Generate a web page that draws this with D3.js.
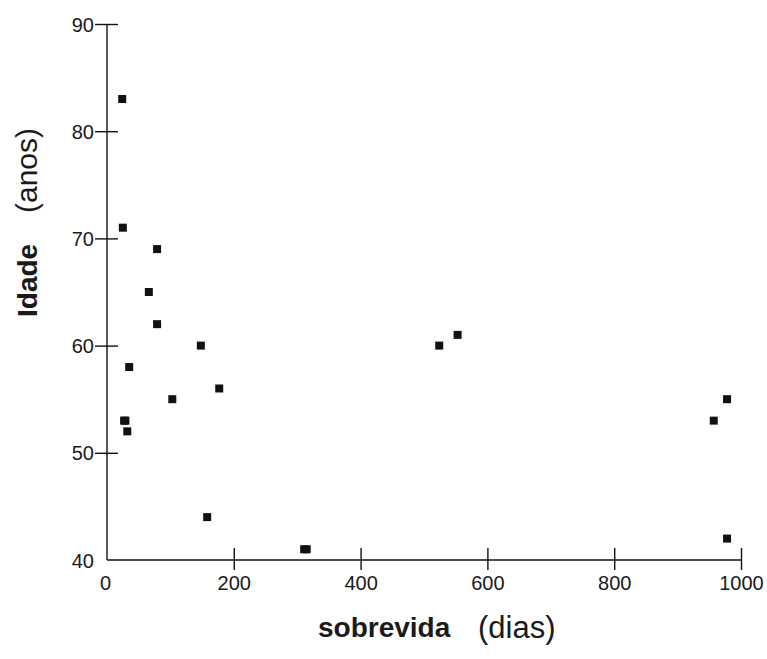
<!doctype html>
<html lang="en">
<head>
<meta charset="utf-8">
<title>Idade x sobrevida</title>
<style>
  body { margin: 0; background: #fff; }
  svg { display: block; }
  text { font-family: Arial, "Liberation Sans", sans-serif; fill: #1a1a1a; }
</style>
</head>
<body>
<svg id="svg" width="767" height="659"></svg>
<script src="https://cdn.jsdelivr.net/npm/d3@7"></script>
<script>
  // survival (days) and age (years)
  var sobrevida = [24, 25, 79, 66, 79, 148, 35, 177, 103, 27, 29, 32, 158, 311, 315, 524, 553, 957, 978, 978];
  var idade     = [83, 71, 69, 65, 62, 60, 58, 56, 55, 53, 53, 52, 44, 41, 41, 60, 61, 53, 55, 42];
  var xTicks = [0, 200, 400, 600, 800, 1000];
  var yTicks = [40, 50, 60, 70, 80, 90];

  var svg = d3.select("#svg");

  var x = d3.scaleLinear().domain([0, 1000]).range([107, 741]);
  var y = d3.scaleLinear().domain([40, 90]).range([560, 24]);

  // x axis, ticks cross the line
  var gx = svg.append("g")
    .attr("transform", "translate(0,560)")
    .call(d3.axisBottom(x).tickValues(xTicks).tickFormat(d3.format("d")).tickSize(10).tickPadding(0));
  gx.select(".domain").attr("d", "M" + x(0) + ",0H" + x(1000)).attr("stroke", "#111").attr("stroke-width", 1.4);
  gx.selectAll(".tick line").attr("y1", -12).attr("y2", 10).attr("stroke", "#111").attr("stroke-width", 1.4)
    .filter(function(d) { return d == 0; }).remove();
  gx.selectAll(".tick text").attr("y", 30).attr("dy", null)
    .style("font-size", "20px").attr("fill", "#1a1a1a")
    .attr("x", function(d) { return d == 0 ? -2 : 0; });

  // y axis
  var gy = svg.append("g")
    .attr("transform", "translate(107,0)")
    .call(d3.axisLeft(y).tickValues(yTicks).tickSize(12).tickPadding(0));
  gy.select(".domain").attr("d", "M0," + y(40) + "V" + y(90)).attr("stroke", "#111").attr("stroke-width", 1.4);
  gy.selectAll(".tick line").attr("x1", 11).attr("x2", -12).attr("stroke", "#111").attr("stroke-width", 1.4)
    .filter(function(d) { return d == 40; }).remove();
  gy.selectAll(".tick text").attr("x", -13).attr("dy", "0.35em")
    .style("font-size", "20px").attr("fill", "#1a1a1a");

  svg.selectAll("g").attr("font-family", null).attr("font-size", null);

  // points
  var pts = sobrevida.map(function(d, i) { return [d, idade[i]]; });
  svg.append("g").selectAll("rect")
    .data(pts)
    .join("rect")
    .attr("x", function(d) { return x(d[0]) - 4; })
    .attr("y", function(d) { return y(d[1]) - 4; })
    .attr("width", 8)
    .attr("height", 8)
    .attr("fill", "#111");

  // axis titles
  svg.append("text").attr("x", 318).attr("y", 637)
    .style("font-size", "28px").style("font-weight", "bold").text("sobrevida");
  svg.append("text").attr("x", 478).attr("y", 638)
    .style("font-size", "31px").text("(dias)");

  svg.append("text").attr("transform", "translate(37,317) rotate(-90)")
    .style("font-size", "28px").style("font-weight", "bold").text("Idade");
  svg.append("text").attr("transform", "translate(37,213) rotate(-90)")
    .style("font-size", "30px").text("(anos)");
</script>
</body>
</html>
